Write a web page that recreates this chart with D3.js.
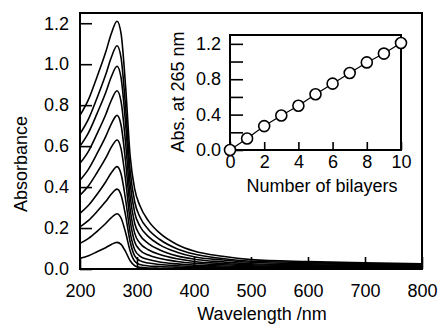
<!DOCTYPE html>
<html>
<head>
<meta charset="utf-8">
<script src="https://cdn.jsdelivr.net/npm/d3@7/dist/d3.min.js"></script>
<style>
  html, body { margin: 0; padding: 0; background: #fff; }
  svg { display: block; }
  text { font-family: "Liberation Sans", Arial, sans-serif; fill: #000; }
</style>
</head>
<body>
<svg id="chart" width="438" height="324"></svg>
<script>
// Sampled wavelengths (nm) for the absorption spectra
const wavelengths = [200, 215, 230, 245, 255, 265, 272, 280, 288, 296, 305, 320, 340, 370, 400, 450, 500, 600, 700, 800];

// Absorbance spectra after 1..10 bilayers
const spectra = [
  [0.052, 0.065, 0.084, 0.104, 0.120, 0.13, 0.120, 0.085, 0.040, 0.016, 0.008, 0.005, 0.004, 0.003, 0.003, 0.002, 0.002, 0.002, 0.001, 0.001],
  [0.125, 0.150, 0.184, 0.222, 0.251, 0.27, 0.249, 0.178, 0.088, 0.038, 0.022, 0.015, 0.012, 0.009, 0.007, 0.006, 0.005, 0.004, 0.003, 0.003],
  [0.206, 0.237, 0.281, 0.329, 0.366, 0.39, 0.361, 0.261, 0.133, 0.064, 0.041, 0.029, 0.022, 0.016, 0.012, 0.010, 0.008, 0.006, 0.005, 0.005],
  [0.272, 0.311, 0.365, 0.425, 0.470, 0.50, 0.465, 0.339, 0.179, 0.094, 0.063, 0.046, 0.034, 0.025, 0.019, 0.015, 0.012, 0.009, 0.008, 0.007],
  [0.361, 0.407, 0.471, 0.541, 0.595, 0.63, 0.588, 0.433, 0.236, 0.132, 0.093, 0.068, 0.051, 0.037, 0.028, 0.021, 0.016, 0.013, 0.011, 0.009],
  [0.434, 0.488, 0.564, 0.646, 0.709, 0.75, 0.703, 0.523, 0.293, 0.174, 0.127, 0.094, 0.071, 0.050, 0.037, 0.027, 0.021, 0.017, 0.014, 0.012],
  [0.516, 0.576, 0.661, 0.753, 0.824, 0.87, 0.818, 0.615, 0.354, 0.222, 0.166, 0.124, 0.093, 0.064, 0.048, 0.035, 0.026, 0.021, 0.017, 0.015],
  [0.600, 0.666, 0.760, 0.861, 0.939, 0.99, 0.934, 0.710, 0.419, 0.274, 0.210, 0.158, 0.118, 0.082, 0.060, 0.044, 0.033, 0.026, 0.022, 0.019],
  [0.660, 0.733, 0.836, 0.948, 1.034, 1.09, 1.032, 0.791, 0.479, 0.327, 0.255, 0.193, 0.144, 0.099, 0.073, 0.051, 0.038, 0.031, 0.025, 0.022],
  [0.750, 0.828, 0.939, 1.058, 1.150, 1.21, 1.150, 0.891, 0.551, 0.390, 0.310, 0.235, 0.175, 0.120, 0.088, 0.062, 0.046, 0.036, 0.030, 0.025]
];

// Inset: absorbance at 265 nm versus number of bilayers
const bilayers = [0, 1, 2, 3, 4, 5, 6, 7, 8, 9, 10];
const abs265 = [0, 0.13, 0.27, 0.39, 0.50, 0.63, 0.75, 0.87, 0.99, 1.09, 1.21];

// Tick values
const mainXTicks = [200, 300, 400, 500, 600, 700, 800];
const mainYTicks = [0, 0.2, 0.4, 0.6, 0.8, 1.0, 1.2];
const insetXTicks = [0, 2, 4, 6, 8, 10];
const insetYTicks = [0, 0.2, 0.4, 0.6, 0.8, 1.0, 1.2];
const insetYLabels = [0, 0.4, 0.8, 1.2];

const svg = d3.select("#chart");
const FONT = 18;

// ---------- main panel ----------
const x = d3.scaleLinear().domain([200, 800]).range([80, 422]);
const y = d3.scaleLinear().domain([0, 1.25]).range([269, 13]);

const line = d3.line()
  .x((d, i) => x(wavelengths[i]))
  .y(d => y(d))
  .curve(d3.curveMonotoneX);

svg.append("g")
  .selectAll("path")
  .data(spectra)
  .join("path")
  .attr("d", line)
  .attr("fill", "none")
  .attr("stroke", "#000")
  .attr("stroke-width", 1.6)
  .attr("stroke-linejoin", "round");

const xAxis = svg.append("g")
  .attr("transform", `translate(0,${y(0)})`)
  .call(d3.axisBottom(x).tickValues(mainXTicks).tickFormat(d3.format("d"))
    .tickSizeInner(-12).tickSizeOuter(0).tickPadding(15));
const yAxis = svg.append("g")
  .attr("transform", `translate(${x(200)},0)`)
  .call(d3.axisLeft(y).tickValues(mainYTicks).tickFormat(d3.format(".1f"))
    .tickSizeInner(-12).tickSizeOuter(0).tickPadding(11));

[xAxis, yAxis].forEach(g => {
  g.select(".domain").remove();
  g.selectAll(".tick line").attr("stroke", "#000").attr("stroke-width", 1.6);
  g.selectAll(".tick text").attr("font-size", FONT).attr("fill", "#000")
    .attr("font-family", "Liberation Sans, Arial, sans-serif");
});

svg.append("rect")
  .attr("x", x(200)).attr("y", y(1.25))
  .attr("width", x(800) - x(200)).attr("height", y(0) - y(1.25))
  .attr("fill", "none").attr("stroke", "#000").attr("stroke-width", 2);

svg.append("text")
  .attr("x", 262).attr("y", 320)
  .attr("text-anchor", "middle").attr("font-size", FONT)
  .text("Wavelength /nm");

svg.append("text")
  .attr("transform", "translate(27,164) rotate(-90)")
  .attr("text-anchor", "middle").attr("font-size", FONT)
  .text("Absorbance");

// ---------- inset ----------
const ix = d3.scaleLinear().domain([0, 10]).range([230, 401]);
const iy = d3.scaleLinear().domain([0, 1.3]).range([150, 35]);

const ixAxis = svg.append("g")
  .attr("transform", `translate(0,${iy(0)})`)
  .call(d3.axisBottom(ix).tickValues(insetXTicks).tickFormat(d3.format("d"))
    .tickSizeInner(-8).tickSizeOuter(0).tickPadding(5));
const iyAxis = svg.append("g")
  .attr("transform", `translate(${ix(0)},0)`)
  .call(d3.axisLeft(iy).tickValues(insetYTicks)
    .tickFormat(d => insetYLabels.some(v => Math.abs(v - d) < 1e-9) ? d3.format(".1f")(d) : "")
    .tickSizeInner(-13).tickSizeOuter(0).tickPadding(9));

[ixAxis, iyAxis].forEach(g => {
  g.select(".domain").remove();
  g.selectAll(".tick line").attr("stroke", "#000").attr("stroke-width", 1.6);
  g.selectAll(".tick text").attr("font-size", FONT).attr("fill", "#000")
    .attr("font-family", "Liberation Sans, Arial, sans-serif");
});

svg.append("rect")
  .attr("x", ix(0)).attr("y", iy(1.3))
  .attr("width", ix(10) - ix(0)).attr("height", iy(0) - iy(1.3))
  .attr("fill", "none").attr("stroke", "#000").attr("stroke-width", 2);

const insetPts = bilayers.map((n, i) => [n, abs265[i]]);

svg.append("path")
  .datum(insetPts)
  .attr("d", d3.line().x(d => ix(d[0])).y(d => iy(d[1])))
  .attr("fill", "none").attr("stroke", "#000").attr("stroke-width", 1.2);

svg.append("g")
  .selectAll("circle")
  .data(insetPts)
  .join("circle")
  .attr("cx", d => ix(d[0]))
  .attr("cy", d => iy(d[1]))
  .attr("r", 5.5)
  .attr("fill", "#fff").attr("stroke", "#000").attr("stroke-width", 1.6);

svg.append("text")
  .attr("x", 322).attr("y", 192)
  .attr("text-anchor", "middle").attr("font-size", FONT)
  .text("Number of bilayers");

svg.append("text")
  .attr("transform", "translate(184,92) rotate(-90)")
  .attr("text-anchor", "middle").attr("font-size", FONT)
  .text("Abs. at 265 nm");
</script>
</body>
</html>
